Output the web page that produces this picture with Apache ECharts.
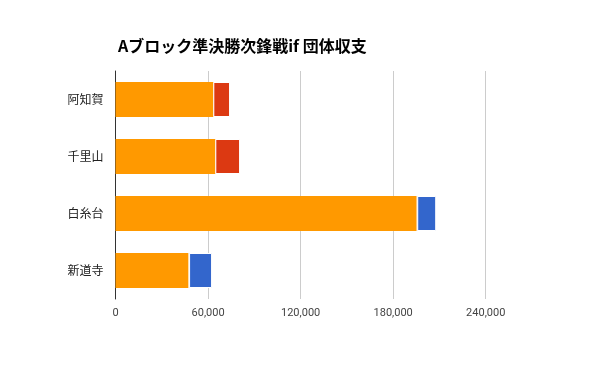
<!DOCTYPE html>
<html><head><meta charset="utf-8">
<script src="https://cdn.jsdelivr.net/npm/echarts@6/dist/echarts.min.js"></script>
<style>html,body{margin:0;padding:0;background:#fff}#c{width:600px;height:371px}</style>
</head><body><div id="c"></div>
<script>
const title = 'Aブロック準決勝次鋒戦if 団体収支';
const categories = ['阿知賀', '千里山', '白糸台', '新道寺'];
const baseValues = [63400, 64700, 195600, 47700];
const redValues = [10900, 16100, 0, 0];
const blueValues = [0, 0, 12300, 14900];
const xTicks = [0, 60000, 120000, 180000, 240000];

const chart = echarts.init(document.getElementById('c'), null, {renderer: 'canvas'});
const font = '"Noto Sans CJK JP", "Noto Sans", sans-serif';
chart.setOption({
  animation: false,
  textStyle: {fontFamily: font},
  title: {
    text: title, left: 113, top: 33,
    textStyle: {fontSize: 16, fontWeight: 'bold', color: '#000', fontFamily: font}
  },
  grid: {left: 115.5, right: 68, top: 71, bottom: 72, containLabel: false},
  xAxis: {
    type: 'value', min: 0, max: 270000, interval: 60000,
    axisLine: {show: false}, axisTick: {show: false},
    splitLine: {show: true, showMinLine: false, showMaxLine: false, lineStyle: {color: '#cccccc', width: 1}},
    axisLabel: {
      color: '#444', fontSize: 11, margin: 9, fontFamily: 'Roboto, Arial, sans-serif',
      formatter: v => xTicks.includes(v) ? v.toLocaleString('en-US') : ''
    }
  },
  yAxis: {
    type: 'category', data: categories, inverse: true,
    axisLine: {show: true, lineStyle: {color: '#333', width: 1}},
    axisTick: {show: false},
    axisLabel: {color: '#222', fontSize: 12, margin: 12}
  },
  series: [
    {type: 'bar', stack: 's', data: baseValues, barWidth: 35, itemStyle: {color: '#ff9900'}},
    {type: 'bar', stack: 's', data: redValues, barWidth: 35, itemStyle: {color: '#dc3912', borderColor: '#fff', borderWidth: 1}},
    {type: 'bar', stack: 's', data: blueValues, barWidth: 35, itemStyle: {color: '#3366cc', borderColor: '#fff', borderWidth: 1}}
  ]
});
</script></body></html>
